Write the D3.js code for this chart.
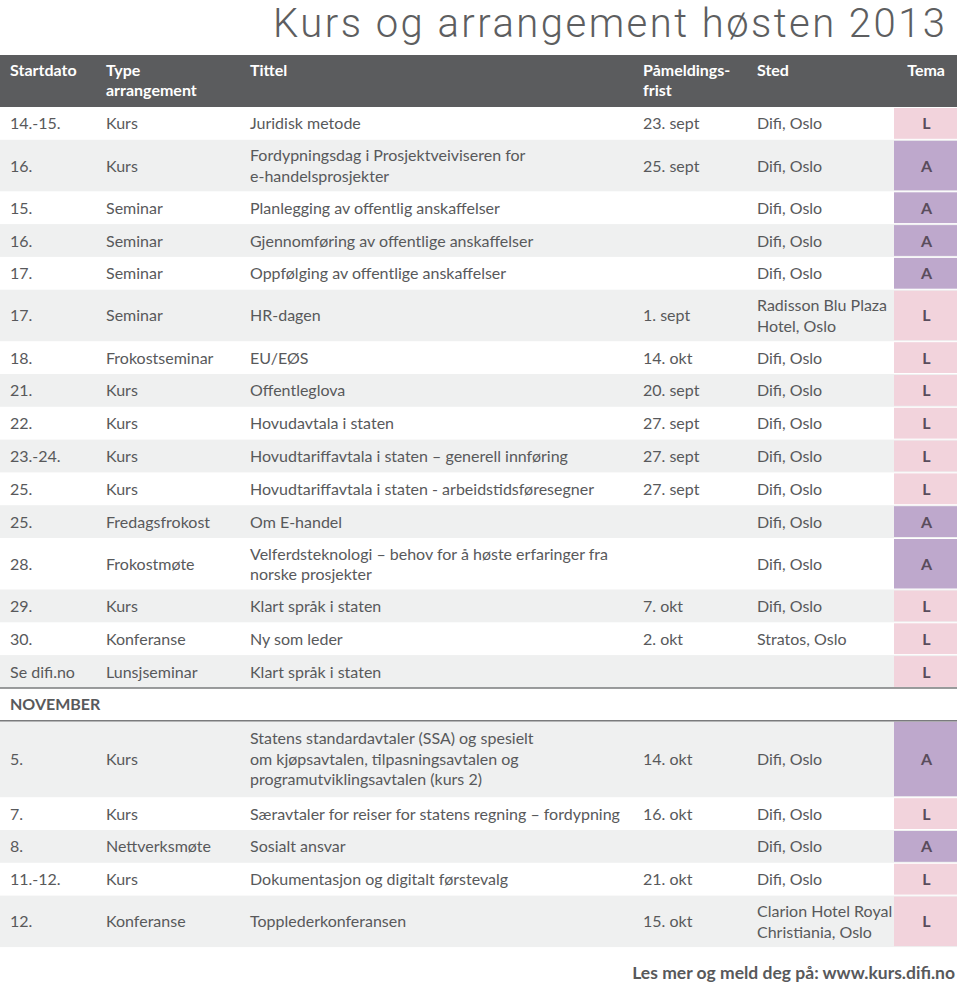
<!DOCTYPE html>
<html>
<head>
<meta charset="utf-8">
<script src="https://cdn.jsdelivr.net/npm/d3@7"></script>
<style>
  body { margin: 0; background: #fff; }
  text { font-family: Lato, "Open Sans", sans-serif; }
</style>
</head>
<body>
<svg id="chart" width="960" height="984"></svg>
<script>
// table content, one array per column
var dates = ["14.-15.", "16.", "15.", "16.", "17.", "17.", "18.", "21.", "22.", "23.-24.", "25.", "25.", "28.", "29.", "30.", "Se difi.no",
  "5.", "7.", "8.", "11.-12.", "12."];
var types = ["Kurs", "Kurs", "Seminar", "Seminar", "Seminar", "Seminar", "Frokostseminar", "Kurs", "Kurs", "Kurs", "Kurs", "Fredagsfrokost", "Frokostmøte", "Kurs", "Konferanse", "Lunsjseminar",
  "Kurs", "Kurs", "Nettverksmøte", "Kurs", "Konferanse"];
var titles = ["Juridisk metode",
  "Fordypningsdag i Prosjektveiviseren for\ne-handelsprosjekter",
  "Planlegging av offentlig anskaffelser",
  "Gjennomføring av offentlige anskaffelser",
  "Oppfølging av offentlige anskaffelser",
  "HR-dagen",
  "EU/EØS",
  "Offentleglova",
  "Hovudavtala i staten",
  "Hovudtariffavtala i staten – generell innføring",
  "Hovudtariffavtala i staten - arbeidstidsføresegner",
  "Om E-handel",
  "Velferdsteknologi – behov for å høste erfaringer fra\nnorske prosjekter",
  "Klart språk i staten",
  "Ny som leder",
  "Klart språk i staten",
  "Statens standardavtaler (SSA) og spesielt\nom kjøpsavtalen, tilpasningsavtalen og\nprogramutviklingsavtalen (kurs 2)",
  "Særavtaler for reiser for statens regning – fordypning",
  "Sosialt ansvar",
  "Dokumentasjon og digitalt førstevalg",
  "Topplederkonferansen"];
var deadlines = ["23. sept", "25. sept", "", "", "", "1. sept", "14. okt", "20. sept", "27. sept", "27. sept", "27. sept", "", "", "7. okt", "2. okt", "",
  "14. okt", "16. okt", "", "21. okt", "15. okt"];
var places = ["Difi, Oslo", "Difi, Oslo", "Difi, Oslo", "Difi, Oslo", "Difi, Oslo", "Radisson Blu Plaza\nHotel, Oslo", "Difi, Oslo", "Difi, Oslo", "Difi, Oslo", "Difi, Oslo", "Difi, Oslo", "Difi, Oslo", "Difi, Oslo", "Difi, Oslo", "Stratos, Oslo", "",
  "Difi, Oslo", "Difi, Oslo", "Difi, Oslo", "Difi, Oslo", "Clarion Hotel Royal\nChristiania, Oslo"];
var temas = ["L", "A", "A", "A", "A", "L", "L", "L", "L", "L", "L", "A", "A", "L", "L", "L",
  "A", "L", "A", "L", "L"];
var headers = ["Startdato", "Type\narrangement", "Tittel", "Påmeldings-\nfrist", "Sted", "Tema"];
var sectionBefore = 16, sectionLabel = "NOVEMBER";

var svg = d3.select("#chart");
var W = 957;
var textCol = "#58595b";

// column positions
var colX = d3.scaleOrdinal().domain(["date", "type", "title", "deadline", "place"]).range([10, 106, 250, 643, 757]);
var temaX0 = 894, temaX1 = 957;
var temaColor = d3.scaleOrdinal().domain(["L", "A"]).range(["#f2d3dc", "#bea8cc"]);

// build rows (with the month row in between)
var rows = [];
dates.forEach(function(d, i) {
  if (i == sectionBefore) rows.push({ section: sectionLabel });
  rows.push({ date: d, type: types[i], title: titles[i], deadline: deadlines[i], place: places[i], tema: temas[i] });
});

var rowH = [0, 32.8, 51.5, 76.5];
var lineH = 20.5;
var y = 107;
rows.forEach(function(r, i) {
  r.lines = r.section ? 1 : d3.max([r.title, r.place, r.type].map(function(s) { return s.split("\n").length; }));
  r.y = y; r.h = rowH[r.lines]; r.i = i;
  y += r.h;
});

// title
svg.append("text")
  .attr("x", 945).attr("y", 37)
  .attr("text-anchor", "end")
  .attr("textLength", 672)
  .attr("lengthAdjust", "spacing")
  .style("font-family", "Roboto, sans-serif")
  .style("font-weight", 300)
  .style("font-size", "40px")
  .attr("fill", "#5d5e60")
  .text("Kurs og arrangement høsten 2013");

// header bar
svg.append("rect").attr("x", 0).attr("y", 55).attr("width", W).attr("height", 52).attr("fill", "#5b5c5e");
var hx = [10, 106, 250, 643, 757, 945];
headers.forEach(function(h, i) {
  var t = svg.append("text")
    .attr("x", hx[i]).attr("y", 76)
    .attr("text-anchor", i == 5 ? "end" : "start")
    .attr("fill", "#fff")
    .style("font-weight", 700).style("font-size", "16px");
  h.split("\n").forEach(function(s, k) {
    t.append("tspan").attr("x", hx[i]).attr("dy", k ? 20 : 0).text(s);
  });
});

// row backgrounds
var g = svg.append("g");
var row = g.selectAll("g.row").data(rows).enter().append("g").attr("class", "row");

row.filter(function(d) { return d.i % 2 == 1; })
  .append("rect")
  .attr("x", 0).attr("y", function(d) { return d.y; })
  .attr("width", W).attr("height", function(d) { return d.h; })
  .attr("fill", "#eff0f0");

row.filter(function(d) { return !d.section; })
  .append("rect")
  .attr("x", temaX0).attr("y", function(d) { return d.y + 1; })
  .attr("width", temaX1 - temaX0).attr("height", function(d) { return d.h - 2; })
  .attr("fill", function(d) { return temaColor(d.tema); });

// multi-line text helper, centered vertically in row
function cell(sel, key) {
  sel.append("text")
    .attr("x", colX(key))
    .attr("fill", textCol)
    .style("font-size", "16px")
    .each(function(d) {
      var parts = d[key].split("\n");
      var y0 = d.y + d.h / 2 - (parts.length - 1) * lineH / 2 + 6;
      var t = d3.select(this);
      parts.forEach(function(s, k) {
        t.append("tspan").attr("x", colX(key)).attr("y", y0 + k * lineH).text(s);
      });
    });
}
var ev = row.filter(function(d) { return !d.section; });
["date", "type", "title", "deadline", "place"].forEach(function(k) { cell(ev, k); });

ev.append("text")
  .attr("x", (temaX0 + temaX1) / 2 + 1)
  .attr("y", function(d) { return d.y + d.h / 2 + 6; })
  .attr("text-anchor", "middle")
  .attr("fill", "#5a4d5c")
  .style("font-size", "16px").style("font-weight", 700)
  .text(function(d) { return d.tema; });

// month section row
var sec = row.filter(function(d) { return d.section; });
sec.append("text")
  .attr("x", 10).attr("y", function(d) { return d.y + d.h / 2 + 6; })
  .attr("fill", textCol)
  .style("font-size", "16px").style("font-weight", 700)
  .text(function(d) { return d.section; });
sec.each(function(d) {
  [d.y, d.y + d.h].forEach(function(ly) {
    svg.append("line").attr("x1", 0).attr("x2", W).attr("y1", ly).attr("y2", ly)
      .attr("stroke", "#7a7b7d").attr("stroke-width", 1.5);
  });
});

// footer
svg.append("text")
  .attr("x", 955).attr("y", 979)
  .attr("text-anchor", "end")
  .attr("fill", textCol)
  .style("font-size", "17.5px").style("font-weight", 700)
  .text("Les mer og meld deg på: www.kurs.difi.no");
</script>
</body>
</html>
